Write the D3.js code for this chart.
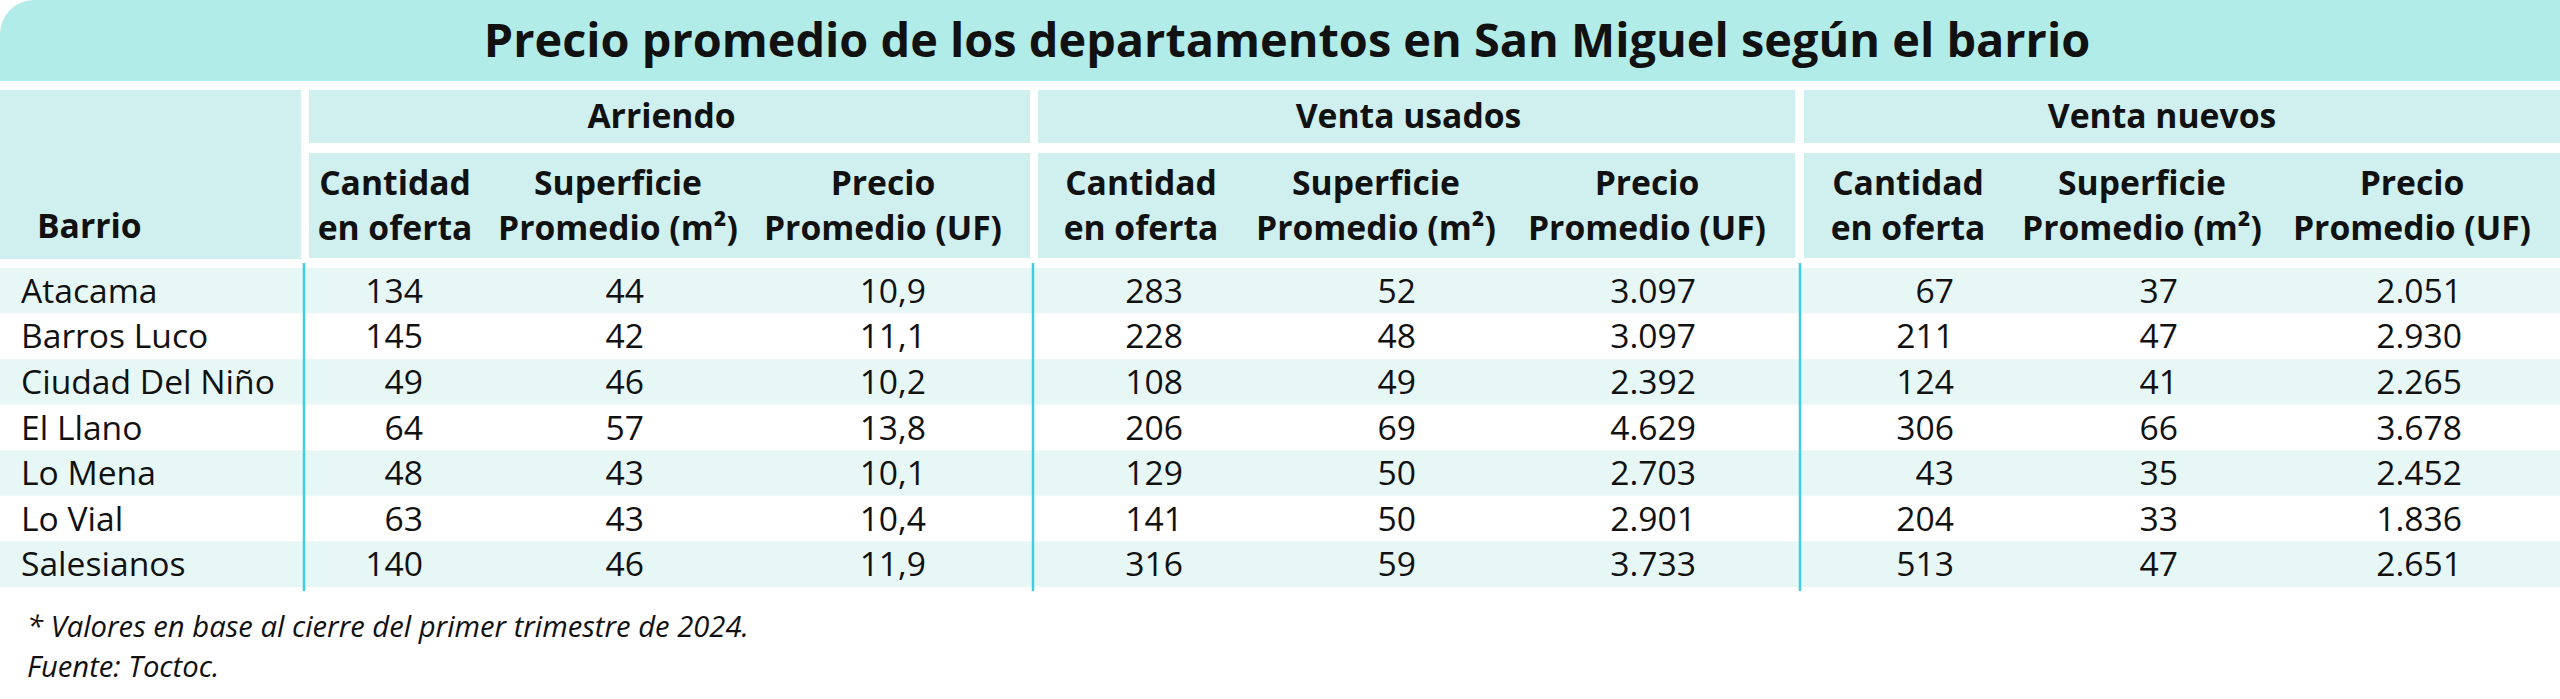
<!DOCTYPE html>
<html>
<head>
<meta charset="utf-8">
<script src="https://cdn.jsdelivr.net/npm/d3@7"></script>
<style>
  html, body { margin: 0; padding: 0; background: #ffffff; }
  svg { display: block; }
  text { font-family: "Open Sans", "Noto Sans", sans-serif; fill: #111111; }
</style>
</head>
<body>
<div id="chart"></div>
<script>
// Data
var barrios = ["Atacama", "Barros Luco", "Ciudad Del Niño", "El Llano", "Lo Mena", "Lo Vial", "Salesianos"];
var groups = ["Arriendo", "Venta usados", "Venta nuevos"];
var subHeaders = [["Cantidad", "en oferta"], ["Superficie", "Promedio (m²)"], ["Precio", "Promedio (UF)"]];

var arriendoCantidad = [134, 145, 49, 64, 48, 63, 140];
var arriendoSuperficie = [44, 42, 46, 57, 43, 43, 46];
var arriendoPrecio = [10.9, 11.1, 10.2, 13.8, 10.1, 10.4, 11.9];

var usadosCantidad = [283, 228, 108, 206, 129, 141, 316];
var usadosSuperficie = [52, 48, 49, 69, 50, 50, 59];
var usadosPrecio = [3097, 3097, 2392, 4629, 2703, 2901, 3733];

var nuevosCantidad = [67, 211, 124, 306, 43, 204, 513];
var nuevosSuperficie = [37, 47, 41, 66, 35, 33, 47];
var nuevosPrecio = [2051, 2930, 2265, 3678, 2452, 1836, 2651];

var title = "Precio promedio de los departamentos en San Miguel según el barrio";
var notes = ["* Valores en base al cierre del primer trimestre de 2024.", "Fuente: Toctoc."];

// Chart set up
var svgWidth = 2560;
var svgHeight = 699;

var svg = d3.select("#chart")
  .append("svg")
  .attr("width", svgWidth)
  .attr("height", svgHeight);

var es = d3.formatLocale({decimal: ",", thousands: ".", grouping: [3], currency: ["$", ""]});
var fmtInt = es.format(",d");
var fmtDec = es.format(",.1f");

// columns: one per group x sub header
var columns = [
  {group: 0, sub: 0, values: arriendoCantidad, fmt: fmtInt},
  {group: 0, sub: 1, values: arriendoSuperficie, fmt: fmtInt},
  {group: 0, sub: 2, values: arriendoPrecio, fmt: fmtDec},
  {group: 1, sub: 0, values: usadosCantidad, fmt: fmtInt},
  {group: 1, sub: 1, values: usadosSuperficie, fmt: fmtInt},
  {group: 1, sub: 2, values: usadosPrecio, fmt: fmtInt},
  {group: 2, sub: 0, values: nuevosCantidad, fmt: fmtInt},
  {group: 2, sub: 1, values: nuevosSuperficie, fmt: fmtInt},
  {group: 2, sub: 2, values: nuevosPrecio, fmt: fmtInt}
];
columns.forEach(function(c, i) { c.key = "c" + i; });
var colKeys = columns.map(c => c.key);

// Scales
var yRow = d3.scaleBand().domain(barrios).range([268, 587]);
var xHead = d3.scaleOrdinal().domain(colKeys).range([395, 618, 883, 1141, 1376, 1647, 1908, 2142, 2412]);
var xNum = d3.scaleOrdinal().domain(colKeys).range([423, 644, 926, 1183, 1416, 1696, 1954, 2178, 2462]);
var xGroup = d3.scaleOrdinal().domain(groups).range([[309, 1030], [1038, 1795], [1804, 2560]]);
var xDivider = d3.scaleOrdinal().domain(groups).range([304, 1033, 1800]);

// font sizes fitted to the widths measured on the picture
function fitSize(str, weight, style, target) {
  var t = svg.append("text")
    .attr("font-size", 100)
    .attr("font-weight", weight)
    .attr("font-style", style)
    .text(str);
  var w = t.node().getComputedTextLength();
  t.remove();
  return 100 * target / w;
}
var titleSize = fitSize(title, 700, "normal", 1607);
var headSize = fitSize("Promedio (m²)", 700, "normal", 240);
var bodySize = fitSize("Ciudad Del Niño", 400, "normal", 254);
var noteSize = fitSize(notes[0], 400, "italic", 722);

// Title band
var r = 34;
svg.append("path")
  .attr("d", `M0,${r} A${r},${r} 0 0 1 ${r},0 H${svgWidth} V81 H0 Z`)
  .attr("fill", "#b1ece8");

svg.append("text")
  .attr("x", 1287)
  .attr("y", 57)
  .attr("text-anchor", "middle")
  .attr("font-weight", 700)
  .attr("font-size", titleSize)
  .text(title);

// Header cells
var headFill = "#cff0ef";
svg.append("rect")
  .attr("x", 0).attr("y", 90)
  .attr("width", 301).attr("height", 169)
  .attr("fill", headFill);

svg.append("text")
  .attr("x", 37).attr("y", 238)
  .attr("font-weight", 700)
  .attr("font-size", headSize)
  .text("Barrio");

var groupG = svg.selectAll(".group")
  .data(groups)
  .enter()
  .append("g")
  .attr("class", "group");

groupG.append("rect")
  .attr("x", d => xGroup(d)[0])
  .attr("y", 90)
  .attr("width", d => xGroup(d)[1] - xGroup(d)[0])
  .attr("height", 53)
  .attr("fill", headFill);

groupG.append("rect")
  .attr("x", d => xGroup(d)[0])
  .attr("y", 153)
  .attr("width", d => xGroup(d)[1] - xGroup(d)[0])
  .attr("height", 105)
  .attr("fill", headFill);

groupG.append("text")
  .attr("x", (d, i) => i === 2 ? 2162 : (xGroup(d)[0] + xGroup(d)[1]) / 2 - 8)
  .attr("y", 128)
  .attr("text-anchor", "middle")
  .attr("font-weight", 700)
  .attr("font-size", headSize)
  .text(d => d);

// Sub headers
var subText = svg.selectAll(".subhead")
  .data(columns)
  .enter()
  .append("text")
  .attr("class", "subhead")
  .attr("text-anchor", "middle")
  .attr("font-weight", 700)
  .attr("font-size", headSize);

subText.append("tspan")
  .attr("x", d => xHead(d.key))
  .attr("y", 195)
  .text(d => subHeaders[d.sub][0]);

subText.append("tspan")
  .attr("x", d => xHead(d.key))
  .attr("y", 240)
  .text(d => subHeaders[d.sub][1]);

// Row bands
svg.selectAll(".band")
  .data(barrios)
  .enter()
  .append("rect")
  .attr("class", "band")
  .attr("x", 0)
  .attr("y", d => yRow(d))
  .attr("width", svgWidth)
  .attr("height", yRow.bandwidth())
  .attr("fill", (d, i) => i % 2 === 0 ? "#e7f7f6" : "#ffffff");

// Dividers
svg.selectAll(".divider")
  .data(groups)
  .enter()
  .append("line")
  .attr("class", "divider")
  .attr("x1", d => xDivider(d))
  .attr("x2", d => xDivider(d))
  .attr("y1", 263)
  .attr("y2", 591)
  .attr("stroke", "#3fcde0")
  .attr("stroke-width", 2.5);

// Barrio names
var textDy = bodySize * 0.36;
svg.selectAll(".barrio")
  .data(barrios)
  .enter()
  .append("text")
  .attr("class", "barrio")
  .attr("x", 21)
  .attr("y", d => yRow(d) + yRow.bandwidth() / 2 + textDy)
  .attr("font-size", bodySize)
  .text(d => d);

// Values
var colG = svg.selectAll(".col")
  .data(columns)
  .enter()
  .append("g")
  .attr("class", "col");

colG.selectAll("text")
  .data(c => c.values.map((v, i) => ({key: c.key, barrio: barrios[i], label: c.fmt(v)})))
  .enter()
  .append("text")
  .attr("x", d => xNum(d.key))
  .attr("y", d => yRow(d.barrio) + yRow.bandwidth() / 2 + textDy)
  .attr("text-anchor", "end")
  .attr("font-size", bodySize)
  .text(d => d.label);

// Footnotes
svg.selectAll(".note")
  .data(notes)
  .enter()
  .append("text")
  .attr("class", "note")
  .attr("x", 27)
  .attr("y", (d, i) => 637 + i * 40)
  .attr("font-style", "italic")
  .attr("font-size", noteSize)
  .text(d => d);
</script>
</body>
</html>
